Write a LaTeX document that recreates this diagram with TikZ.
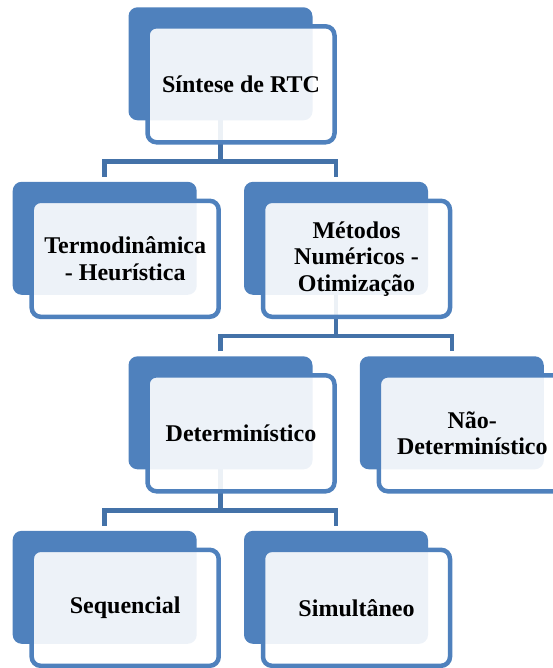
\documentclass[tikz,border=0pt]{standalone}
\usepackage{fontspec}
\setmainfont{Liberation Serif}
\usetikzlibrary{backgrounds,calc}
\definecolor{boxblue}{HTML}{4F81BD}
\definecolor{lineblue}{HTML}{4472A8}
\begin{document}
\begin{tikzpicture}[x=1pt,y=-1pt,
  backbox/.style={fill=boxblue, rounded corners=9pt, inner sep=0pt, outer sep=0pt,
    minimum width=184pt, minimum height=113pt, anchor=north west},
  frontbox/.style={fill=white, fill opacity=0.9, text opacity=1, draw=boxblue,
    line width=4.5pt, rounded corners=9pt, inner sep=0pt, outer sep=0pt,
    minimum width=187pt, minimum height=116pt, anchor=north west, align=center,
    font=\fontsize{24pt}{26.5pt}\selectfont\bfseries},
  conn/.style={draw=lineblue, line width=4.5pt}]
\useasboundingbox (0,0) rectangle (553,668);
\clip (0,0) rectangle (553,668);
% back boxes
\node[backbox] (Sb) at (128.5,7.3) {};
\node[backbox] (Tb) at (12.7,181.8) {};
\node[backbox] (Mb) at (244,181.8) {};
\node[backbox] (Db) at (128.5,356.3) {};
\node[backbox] (Nb) at (359.8,356.3) {};
\node[backbox] (Qb) at (12.7,530.8) {};
\node[backbox] (Ub) at (244,530.8) {};
% front boxes with text
\node[frontbox] (S) at ($(Sb.north west)+(19,19)$) {Síntese de RTC};
\node[frontbox] (T) at ($(Tb.north west)+(19,19)$) {Termodinâmica\\- Heurística};
\node[frontbox] (M) at ($(Mb.north west)+(19,19)$) {Métodos\\Numéricos -\\Otimização};
\node[frontbox] (D) at ($(Db.north west)+(19,19)$) {Determinístico};
\node[frontbox] (N) at ($(Nb.north west)+(19,19)$) {Não-\\Determinístico};
\node[frontbox] (Q) at ($(Qb.north west)+(19,19)$) {Sequencial};
\node[frontbox] (U) at ($(Ub.north west)+(19,19)$) {Simultâneo};
% connectors
\begin{pgfonlayer}{background}
\coordinate (j1) at ($(Sb.south)+(0,41)$);
\coordinate (j2) at ($(Mb.south)+(0,41)$);
\coordinate (j3) at ($(Db.south)+(0,41)$);
\coordinate (t1) at ($(Tb.north)+(0,-5)$);
\coordinate (t2) at ($(Mb.north)+(0,-5)$);
\coordinate (t3) at ($(Db.north)+(0,-5)$);
\coordinate (t4) at ($(Nb.north)+(0,-5)$);
\coordinate (t5) at ($(Qb.north)+(0,-5)$);
\coordinate (t6) at ($(Ub.north)+(0,-5)$);
\draw[conn] (Sb.south) -- (j1);
\draw[conn] (t1) |- (j1) -| (t2);
\draw[conn] (Mb.south) -- (j2);
\draw[conn] (t3) |- (j2) -| (t4);
\draw[conn] (Db.south) -- (j3);
\draw[conn] (t5) |- (j3) -| (t6);
\end{pgfonlayer}
\end{tikzpicture}
\end{document}
